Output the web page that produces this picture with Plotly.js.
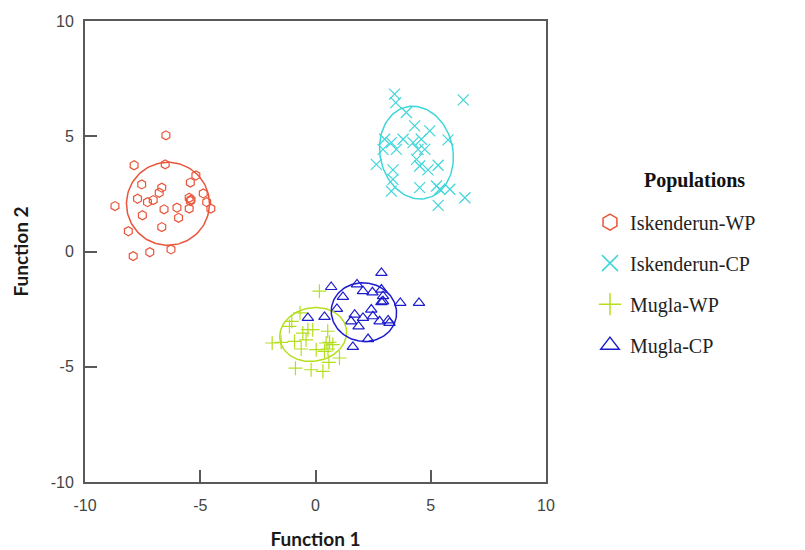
<!DOCTYPE html>
<html>
<head>
<meta charset="utf-8">
<script src="https://cdn.plot.ly/plotly-3.0.1.min.js"></script>
<style>body{margin:0;background:#fff}#chart{width:805px;height:550px}</style>
</head>
<body>
<div id="chart"></div>
<script>
// Population names
const populations = ["Iskenderun-WP", "Iskenderun-CP", "Mugla-WP", "Mugla-CP"];
const legendTitle = "Populations";

// Discriminant scores (Function 1, Function 2)
const iskWP_f1 = [-6.49,-7.87,-6.52,-5.19,-7.54,-5.43,-6.67,-6.78,-4.87,-7.72,-7.29,-7.04,-5.48,-5.43,-4.72,-8.70,-6.57,-6.01,-5.48,-4.54,-7.51,-5.94,-6.67,-8.12,-7.19,-6.27,-7.91,-5.40];
const iskWP_f2 = [5.04,3.74,3.78,3.30,2.91,2.99,2.77,2.55,2.52,2.29,2.14,2.23,2.33,2.19,2.14,1.97,1.83,1.90,1.86,1.86,1.57,1.46,1.06,0.88,-0.03,0.09,-0.20,2.25];

const iskCP_f1 = [3.43,3.48,6.41,3.94,4.30,4.96,3.00,3.29,3.80,4.23,4.59,5.75,3.51,4.45,4.74,2.93,4.38,2.64,5.32,4.52,4.88,3.36,3.36,4.52,5.25,5.39,3.29,5.83,6.48,5.32];
const iskCP_f2 = [6.83,6.46,6.58,6.03,5.45,5.23,4.87,4.72,4.87,4.72,4.87,4.84,4.43,4.43,4.43,4.43,4.00,3.78,3.74,3.71,3.54,3.54,3.13,2.77,2.84,2.70,2.62,2.70,2.33,2.00];

const muWP_f1 = [0.17,-0.67,-1.03,-0.33,-0.55,0.53,-1.88,-1.49,-0.91,-0.41,0.61,0.75,-0.62,0.03,0.39,0.54,1.04,0.58,-0.87,0.32,-0.19,-1.13,-0.12,0.46];
const muWP_f2 = [-1.72,-2.66,-3.03,-3.39,-3.54,-3.46,-3.97,-3.94,-3.90,-3.83,-3.94,-4.04,-4.23,-4.26,-4.33,-4.23,-4.62,-4.81,-5.06,-5.20,-5.13,-3.25,-3.39,-3.97];

const muCP_f1 = [2.86,0.68,1.80,2.06,2.47,2.86,2.93,2.86,3.68,4.49,1.19,0.93,2.42,0.39,1.70,2.06,2.49,2.78,3.15,3.21,1.54,1.87,2.28,1.62,-0.33,2.93];
const muCP_f2 = [-0.93,-1.54,-1.43,-1.72,-1.77,-1.65,-1.94,-2.20,-2.23,-2.23,-1.97,-2.49,-2.52,-2.84,-2.74,-2.88,-2.81,-3.03,-2.99,-3.10,-3.03,-3.25,-3.80,-4.14,-2.88,-2.16];

// Confidence ellipse parameters per population: centre, semi-axes, rotation (deg)
const ellCx = [-6.40, 4.38, -0.10, 2.10];
const ellCy = [2.07, 4.29, -3.60, -2.63];
const ellA = [1.80, 1.58, 1.46, 1.42];
const ellB = [1.80, 2.03, 1.16, 1.27];
const ellRot = [15, 12, 10, -8];

// Axis ticks
const tickVals = [-10, -5, 0, 5, 10];

const colors = ["#e9553a", "#3fd6da", "#b5df1e", "#1c1ccf"];
const symbols = ["hexagon-open", "x-thin-open", "cross-thin-open", "triangle-up-open"];
const sizes = [9, 11, 10, 10];
const xs = [iskWP_f1, iskCP_f1, muWP_f1, muCP_f1];
const ys = [iskWP_f2, iskCP_f2, muWP_f2, muCP_f2];

const traces = [];
for (let i = 0; i < populations.length; i++) {
  traces.push({
    type: "scatter", mode: "markers", name: populations[i],
    x: xs[i], y: ys[i], showlegend: false,
    marker: {symbol: symbols[i], color: colors[i], size: sizes[i], line: {width: 1.2, color: colors[i]}},
    hoverinfo: "skip"
  });
}
for (let i = 0; i < populations.length; i++) {
  const ex = [], ey = [];
  const r = ellRot[i] * Math.PI / 180;
  for (let k = 0; k <= 120; k++) {
    const t = 2 * Math.PI * k / 120;
    const u = ellA[i] * Math.cos(t), v = ellB[i] * Math.sin(t);
    ex.push(ellCx[i] + u * Math.cos(r) - v * Math.sin(r));
    ey.push(ellCy[i] + u * Math.sin(r) + v * Math.cos(r));
  }
  traces.push({
    type: "scatter", mode: "lines", x: ex, y: ey, showlegend: false,
    line: {color: colors[i], width: 1.5}, hoverinfo: "skip"
  });
}
// legend-only entries (larger symbols, no data)
for (let i = 0; i < populations.length; i++) {
  traces.push({
    type: "scatter", mode: "markers", name: populations[i],
    x: [null], y: [null], legendgroup: "g" + i, showlegend: true,
    marker: {symbol: symbols[i], color: colors[i], size: 18, line: {width: 1.5, color: colors[i]}},
    hoverinfo: "skip"
  });
}

const axisCommon = {
  range: [-10, 10], tickvals: tickVals, ticktext: tickVals.map(String),
  ticks: "inside", ticklen: 12, tickwidth: 2, tickcolor: "#595959",
  showline: true, linecolor: "#595959", linewidth: 2, mirror: true,
  showgrid: false, zeroline: false,
  tickfont: {family: "Liberation Sans, Arial, sans-serif", size: 16, color: "#444"}
};
const titleFont = {family: "Lato, Open Sans, sans-serif", size: 19, color: "#1a1a1a", weight: "bold"};

const layout = {
  width: 805, height: 550,
  margin: {l: 85, r: 259, t: 21, b: 68},
  paper_bgcolor: "#fff", plot_bgcolor: "#fff",
  showlegend: true,
  xaxis: Object.assign({}, axisCommon, {
    ticklabelstandoff: 8,
    title: {text: "Function 1", font: titleFont, standoff: 20}
  }),
  yaxis: Object.assign({}, axisCommon, {
    ticklabelstandoff: 6,
    title: {text: "Function 2", font: titleFont, standoff: 17}
  }),
  legend: {
    x: 1.0954, xanchor: "left", y: 0.606, yanchor: "top",
    font: {family: "Liberation Serif, Times New Roman, serif", size: 20, color: "#222"},
    tracegroupgap: 12, itemsizing: "trace", bgcolor: "rgba(0,0,0,0)"
  },
  annotations: [{
    xref: "paper", yref: "paper", x: 1.322, y: 0.655, xanchor: "center", yanchor: "middle",
    text: "<b>" + legendTitle + "</b>", showarrow: false,
    font: {family: "Liberation Serif, Times New Roman, serif", size: 20, color: "#111"}
  }]
};

Plotly.newPlot("chart", traces, layout, {displayModeBar: false, staticPlot: true});
</script>
</body>
</html>
